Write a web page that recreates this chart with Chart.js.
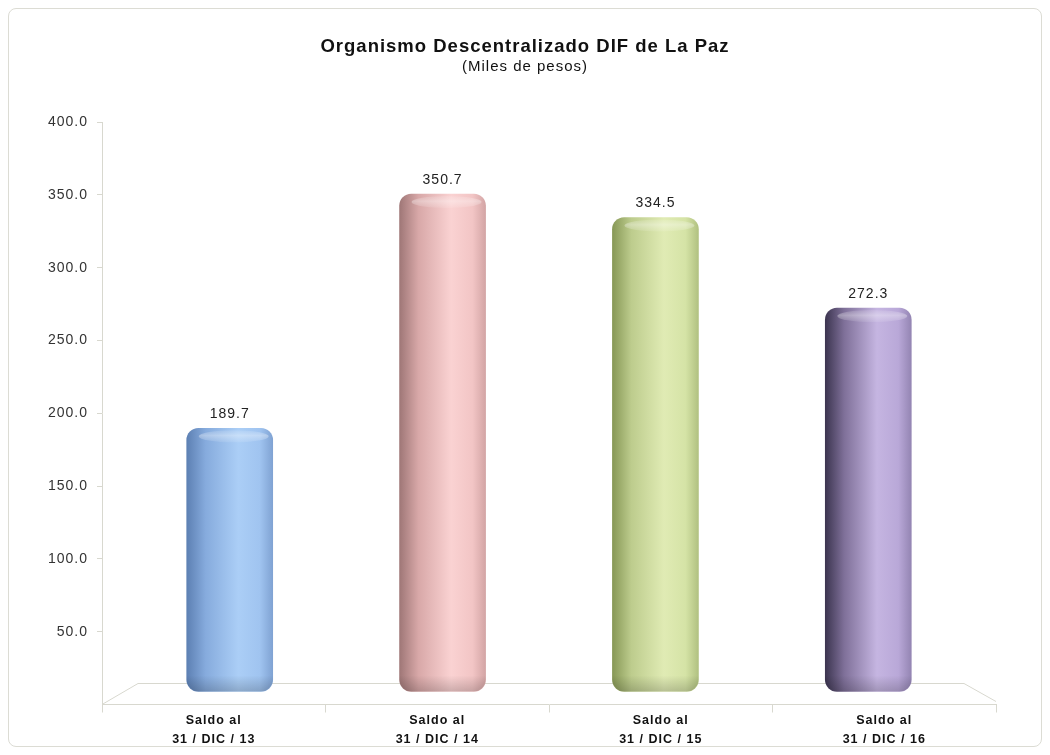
<!DOCTYPE html>
<html>
<head>
<meta charset="utf-8">
<script src="https://cdn.jsdelivr.net/npm/chart.js@4.4.1/dist/chart.umd.min.js"></script>
<style>
  html, body { margin: 0; padding: 0; background: #fff; }
  #frame {
    position: absolute; left: 8px; top: 8px; width: 1032px; height: 737px;
    border: 1px solid #dcdcd4; border-radius: 8px;
  }
  #wrap { position: absolute; left: 0; top: 0; width: 1050px; height: 755px; }
</style>
</head>
<body>
<div id="frame"></div>
<div id="wrap"><canvas id="chart" width="1050" height="755"></canvas></div>
<script>
const categories = [
  ["Saldo al", "31 / DIC / 13"],
  ["Saldo al", "31 / DIC / 14"],
  ["Saldo al", "31 / DIC / 15"],
  ["Saldo al", "31 / DIC / 16"]
];
const values = [189.7, 350.7, 334.5, 272.3];
const yTicks = [50, 100, 150, 200, 250, 300, 350, 400];

// shading stops for each cylinder: left edge -> highlight -> right edge
const barShades = [
  ["#5d80b3", "#86abdd", "#abcef6", "#a0c4f0", "#80a3d3"],
  ["#9f7777", "#d8a8a8", "#fad2d2", "#f2c5c5", "#d3a5a5"],
  ["#879856", "#bdcc8d", "#e0ebb4", "#d5e3a6", "#b1c181"],
  ["#3c3550", "#7f7099", "#c5b5e1", "#b9a8d8", "#9485b3"]
];
const BAR_W = 86;
const FONT = "'Liberation Sans', Arial, sans-serif";

function barFill(ctx) {
  const chart = ctx.chart;
  const shades = barShades[ctx.dataIndex];
  const xs = chart.scales && chart.scales.xb;
  if (!chart.chartArea || !xs) return shades[2];
  const x = xs.getPixelForValue(ctx.dataIndex);
  const g = chart.ctx.createLinearGradient(x - BAR_W / 2, 0, x + BAR_W / 2, 0);
  g.addColorStop(0, shades[0]);
  g.addColorStop(0.22, shades[1]);
  g.addColorStop(0.6, shades[2]);
  g.addColorStop(0.85, shades[3]);
  g.addColorStop(1, shades[4]);
  return g;
}

const spacingPlugin = {
  id: "spacing",
  beforeInit(chart) { chart.ctx.letterSpacing = "1px"; },
  beforeLayout(chart) { chart.ctx.letterSpacing = "1px"; },
  beforeDraw(chart) { chart.ctx.letterSpacing = "1px"; }
};

const floorPlugin = {
  id: "floor",
  beforeDatasetsDraw(chart) {
    const { ctx, chartArea: a } = chart;
    ctx.save();
    ctx.strokeStyle = "#d8d8cf";
    ctx.lineWidth = 1;
    ctx.beginPath();
    ctx.moveTo(a.left, a.bottom);
    ctx.lineTo(a.left + 36, a.bottom - 21);
    ctx.lineTo(a.right - 32, a.bottom - 21);
    ctx.lineTo(a.right, a.bottom - 3);
    ctx.stroke();
    ctx.restore();
  }
};

const capPlugin = {
  id: "caps",
  afterDatasetsDraw(chart) {
    const { ctx } = chart;
    const meta = chart.getDatasetMeta(0);
    ctx.save();
    meta.data.forEach((bar, i) => {
      // soft highlight on the top of each cylinder
      const g = ctx.createLinearGradient(0, bar.y, 0, bar.y + 16);
      g.addColorStop(0, "rgba(255,255,255,0.0)");
      g.addColorStop(0.45, "rgba(255,255,255,0.35)");
      g.addColorStop(1, "rgba(255,255,255,0.0)");
      ctx.fillStyle = g;
      ctx.beginPath();
      ctx.ellipse(bar.x + 4, bar.y + 8, BAR_W / 2 - 8, 6, 0, 0, Math.PI * 2);
      ctx.fill();
      // bottom shade
      const b = ctx.createLinearGradient(0, bar.base - 16, 0, bar.base);
      b.addColorStop(0, "rgba(0,0,0,0)");
      b.addColorStop(1, "rgba(0,0,0,0.18)");
      ctx.fillStyle = b;
      ctx.beginPath();
      ctx.roundRect(bar.x - BAR_W / 2, bar.base - 16, BAR_W, 16, [0, 0, 12, 12]);
      ctx.fill();
      // value label
      ctx.letterSpacing = "1px";
      ctx.fillStyle = "#222";
      ctx.font = "14px " + FONT;
      ctx.textAlign = "center";
      ctx.textBaseline = "bottom";
      ctx.fillText(values[i].toFixed(1), bar.x, bar.y - 7);
    });
    ctx.restore();
  }
};

new Chart(document.getElementById("chart"), {
  type: "bar",
  data: {
    labels: categories,
    datasets: [{
      xAxisID: "xb",
      data: values.map((v, i) => ({ x: i, y: v })),
      backgroundColor: barFill,
      borderWidth: 0,
      borderRadius: 12,
      borderSkipped: false,
      barThickness: BAR_W,
      base: 9
    }]
  },
  plugins: [spacingPlugin, floorPlugin, capPlugin],
  options: {
    responsive: false,
    animation: false,
    layout: { padding: { top: 36, left: 30, right: 30, bottom: 7 } },
    plugins: {
      legend: { display: false },
      tooltip: { enabled: false },
      title: {
        display: true,
        text: "Organismo Descentralizado DIF de La Paz",
        color: "#111",
        font: { family: FONT, size: 18.5, weight: "bold" },
        padding: { top: 0, bottom: 0 }
      },
      subtitle: {
        display: true,
        text: "(Miles de pesos)",
        color: "#111",
        font: { family: FONT, size: 15 },
        padding: { top: 0, bottom: 46 }
      }
    },
    scales: {
      x: {
        type: "category",
        offset: true,
        grid: { display: true, drawOnChartArea: false, color: "#d8d8cf", tickLength: 8, offset: true },
        border: { color: "#d8d8cf" },
        ticks: {
          color: "#111",
          padding: -1,
          font: { family: FONT, size: 12.5, weight: "bold", lineHeight: 1.5 }
        }
      },
      // hidden axis that places the cylinders slightly toward the centre (perspective)
      xb: {
        type: "linear",
        display: false,
        offset: false,
        grid: { offset: false },
        min: -0.6,
        max: 3.6
      },
      y: {
        min: 0,
        max: 400,
        afterFit(scale) { scale.width = 72; },
        afterBuildTicks(scale) { scale.ticks = yTicks.map(v => ({ value: v })); },
        grid: { display: true, drawOnChartArea: false, color: "#d8d8cf", tickLength: 5 },
        border: { color: "#d8d8cf" },
        ticks: {
          color: "#333",
          padding: 9,
          font: { family: FONT, size: 14 },
          callback: v => v.toFixed(1)
        }
      },
      // empty right-hand spacer so the plot ends where the reference does
      yr: {
        type: "linear",
        position: "right",
        afterFit(scale) { scale.width = 24; },
        grid: { display: false },
        border: { display: false },
        ticks: { display: false }
      }
    }
  }
});
</script>
</body>
</html>
